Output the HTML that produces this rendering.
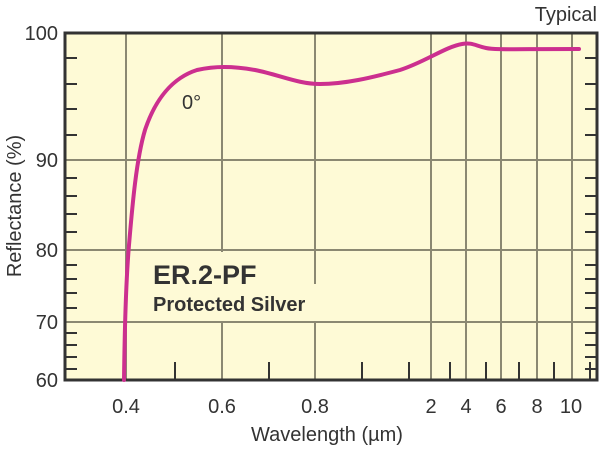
<!DOCTYPE html>
<html><head><style>body{margin:0;background:#fff}svg{display:block}</style></head>
<body>
<svg width="600" height="449" viewBox="0 0 600 449" xmlns="http://www.w3.org/2000/svg" font-family="Liberation Sans, sans-serif">
<rect x="65" y="33" width="532" height="347" fill="#fefad6"/>
<g stroke="#8b8872" stroke-width="2">
<line x1="65" y1="160" x2="597" y2="160"/>
<line x1="65" y1="250" x2="597" y2="250"/>
<line x1="65" y1="322" x2="597" y2="322"/>
<line x1="126" y1="33" x2="126" y2="380"/>
<line x1="222" y1="33" x2="222" y2="380"/>
<line x1="315" y1="33" x2="315" y2="380"/>
<line x1="431" y1="33" x2="431" y2="380"/>
<line x1="466" y1="33" x2="466" y2="380"/>
<line x1="501" y1="33" x2="501" y2="380"/>
<line x1="537" y1="33" x2="537" y2="380"/>
<line x1="572" y1="33" x2="572" y2="380"/>
</g>
<rect x="140" y="252" width="98" height="69" fill="#fefad6"/>
<rect x="238" y="284" width="92" height="37" fill="#fefad6"/>
<g stroke="#333" stroke-width="2">
<path d="M65 58h12M65 84h12M65 109h12M65 135h12M65 178h12M65 196h12M65 214h12M65 232h12M65 265h12M65 279h12M65 293h12M65 308h12M65 333h12M65 345h12M65 357h12M65 369h12"/>
<path d="M597 58h-12M597 84h-12M597 109h-12M597 135h-12M597 178h-12M597 196h-12M597 214h-12M597 232h-12M597 265h-12M597 279h-12M597 293h-12M597 308h-12M597 333h-12M597 345h-12M597 357h-12M597 369h-12"/>
<path d="M175 380v-18M269 380v-18M362 380v-18M409 380v-18M450 380v-18M486 380v-18M519 380v-18M554 380v-18M590 380v-18"/>
</g>
<rect x="65" y="33" width="532" height="347" fill="none" stroke="#333" stroke-width="3"/>
<path d="M124 380 C124.5 340 126 280 129 245 C132 210 136 160 145 130 C155 100 172 78 197 70 C215 66 232 66 255 70 C280 75 298 84 320 84 C345 84 370 78 400 70 C425 62 445 47 462 44 C472 42 476 46 486 48 C495 50 510 49 579 49" fill="none" stroke="#cc2f8f" stroke-width="4" stroke-linejoin="round" stroke-linecap="round"/>
<g fill="#333" font-size="20">
<text x="58" y="40" text-anchor="end">100</text>
<text x="58" y="167" text-anchor="end">90</text>
<text x="58" y="257" text-anchor="end">80</text>
<text x="58" y="329" text-anchor="end">70</text>
<text x="58" y="387" text-anchor="end">60</text>
<text x="126" y="413" text-anchor="middle">0.4</text>
<text x="222" y="413" text-anchor="middle">0.6</text>
<text x="315" y="413" text-anchor="middle">0.8</text>
<text x="431" y="413" text-anchor="middle">2</text>
<text x="466" y="413" text-anchor="middle">4</text>
<text x="501" y="413" text-anchor="middle">6</text>
<text x="537" y="413" text-anchor="middle">8</text>
<text x="571" y="413" text-anchor="middle">10</text>
<text x="327" y="441" text-anchor="middle">Wavelength (µm)</text>
<text x="597" y="21" text-anchor="end">Typical</text>
<text transform="translate(21,206) rotate(-90)" text-anchor="middle">Reflectance (%)</text>
<text x="182" y="109">0°</text>
</g>
<text x="153" y="284" fill="#333" font-size="27" font-weight="bold">ER.2-PF</text>
<text x="153" y="311" fill="#333" font-size="20" font-weight="bold">Protected Silver</text>
</svg>
</body></html>
